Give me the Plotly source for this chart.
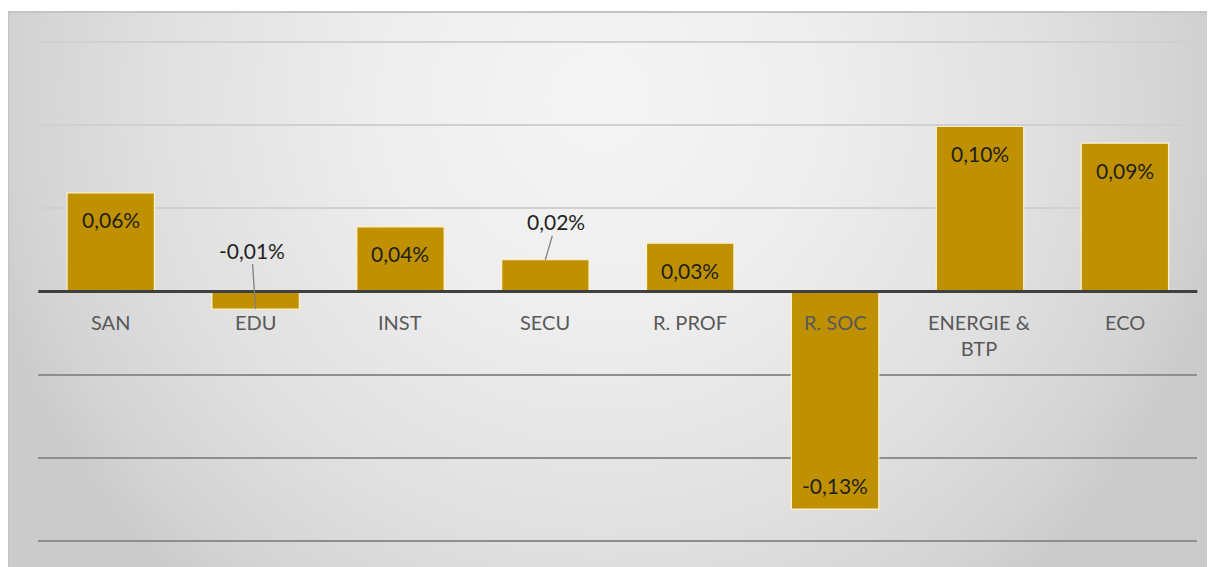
import plotly.graph_objects as go

# ---- data ----
categories = ["SAN", "EDU", "INST", "SECU", "R. PROF", "R. SOC", "ENERGIE & BTP", "ECO"]
category_labels = ["SAN", "EDU", "INST", "SECU", "R. PROF", "R. SOC", "ENERGIE &<br>BTP", "ECO"]
values = [0.0593, -0.0106, 0.0389, 0.0191, 0.0291, -0.1308, 0.0992, 0.0892]  # in %
outside_labels = {"EDU": (-4, -59), "SECU": (11, -38)}
y_ticks = [-0.15, -0.10, -0.05, 0.0, 0.05, 0.10, 0.15]

W, H = 1215, 567
OFF = 8  # page body margin
FONT = "Lato"
BAR = "#BF9000"

def px_x(p):
    return (p - OFF) / W

def px_y(p):
    return 1 - (p - OFF) / H

def fmt(v):
    return f"{v:.2f}%".replace(".", ",")

fig = go.Figure()

# background radial gradient (decoration) on its own subplot
cx, cy, half = 600, 100, 640
fig.add_trace(go.Scatter(
    x=[cx - half, cx + half, cx + half, cx - half, cx - half],
    y=[cy - half, cy - half, cy + half, cy + half, cy - half],
    mode="lines", line=dict(width=0), fill="toself",
    fillgradient=dict(type="radial",
                      colorscale=[[0, "#f5f5f5"], [0.34, "#eeeeee"], [0.69, "#e0e0e0"],
                                  [0.9, "#d4d4d4"], [1, "#cbcbcb"]]),
    hoverinfo="skip", showlegend=False, xaxis="x", yaxis="y"))

# bars
fig.add_trace(go.Bar(
    x=categories, y=values, marker=dict(color=BAR, line=dict(color="#fff2cc", width=1.2)),
    xaxis="x2", yaxis="y2", showlegend=False, hoverinfo="skip"))
# empty trace so the overlaying grid axis is drawn
fig.add_trace(go.Scatter(x=[], y=[], xaxis="x2", yaxis="y3", showlegend=False, hoverinfo="skip"))

annotations = []
for cat, lab, v in zip(categories, category_labels, values):
    annotations.append(dict(x=cat, y=0, xref="x2", yref="y2", text=lab, showarrow=False,
                            yanchor="top", yshift=-17,
                            font=dict(family=FONT, size=20, color="#595959")))
    if cat in outside_labels:
        ax, ay = outside_labels[cat]
        annotations.append(dict(x=cat, y=v, xref="x2", yref="y2", text=fmt(v), showarrow=True,
                                arrowhead=0, arrowwidth=1.3, arrowcolor="#808080", ax=ax, ay=ay,
                                font=dict(family=FONT, size=21, color="#1f1f1f")))
    else:
        annotations.append(dict(x=cat, y=v, xref="x2", yref="y2", text=fmt(v), showarrow=False,
                                yanchor="middle", yshift=-27 if v > 0 else 24,
                                font=dict(family=FONT, size=21, color="#1f1f1f")))

shapes = [
    # zero line
    dict(type="line", xref="x2 domain", yref="y2", x0=0, x1=1, y0=0, y1=0,
         line=dict(color="#404040", width=3), layer="above"),
    # chart frame
    dict(type="rect", xref="paper", yref="paper", x0=px_x(8), x1=1.2, y0=-0.2, y1=px_y(12),
         line=dict(color="#c4c4c4", width=2), fillcolor="rgba(0,0,0,0)"),
]

pad = 0.001
pad_px = pad * 499 / 0.3
yr = [min(y_ticks) - pad, max(y_ticks) + pad]

fig.update_layout(
    width=W, height=H, margin=dict(l=0, r=0, t=0, b=0),
    paper_bgcolor="white", plot_bgcolor="rgba(0,0,0,0)",
    bargap=0.397, showlegend=False,
    xaxis=dict(domain=[px_x(8), 1], range=[8, W + OFF], visible=False, fixedrange=True),
    yaxis=dict(domain=[0, px_y(12)], range=[H + OFF, 12], visible=False, fixedrange=True),
    xaxis2=dict(domain=[px_x(38.3), px_x(1197.3)], anchor="y2", showticklabels=False, showgrid=False,
                showline=False, ticks="", zeroline=False),
    yaxis2=dict(domain=[px_y(541 + pad_px), px_y(42 - pad_px)], anchor="x2", range=yr,
                tickvals=[t for t in y_ticks if t > 0], showticklabels=False, showgrid=True,
                gridcolor="#d0d0d0", gridwidth=2, zeroline=False, showline=False, ticks=""),
    yaxis3=dict(overlaying="y2", anchor="x2", range=yr,
                tickvals=[t for t in y_ticks if t < 0], showticklabels=False, showgrid=True,
                gridcolor="#8e8e8e", gridwidth=2, zeroline=False, showline=False, ticks=""),
    annotations=annotations, shapes=shapes,
)

fig.write_html("out.html")
